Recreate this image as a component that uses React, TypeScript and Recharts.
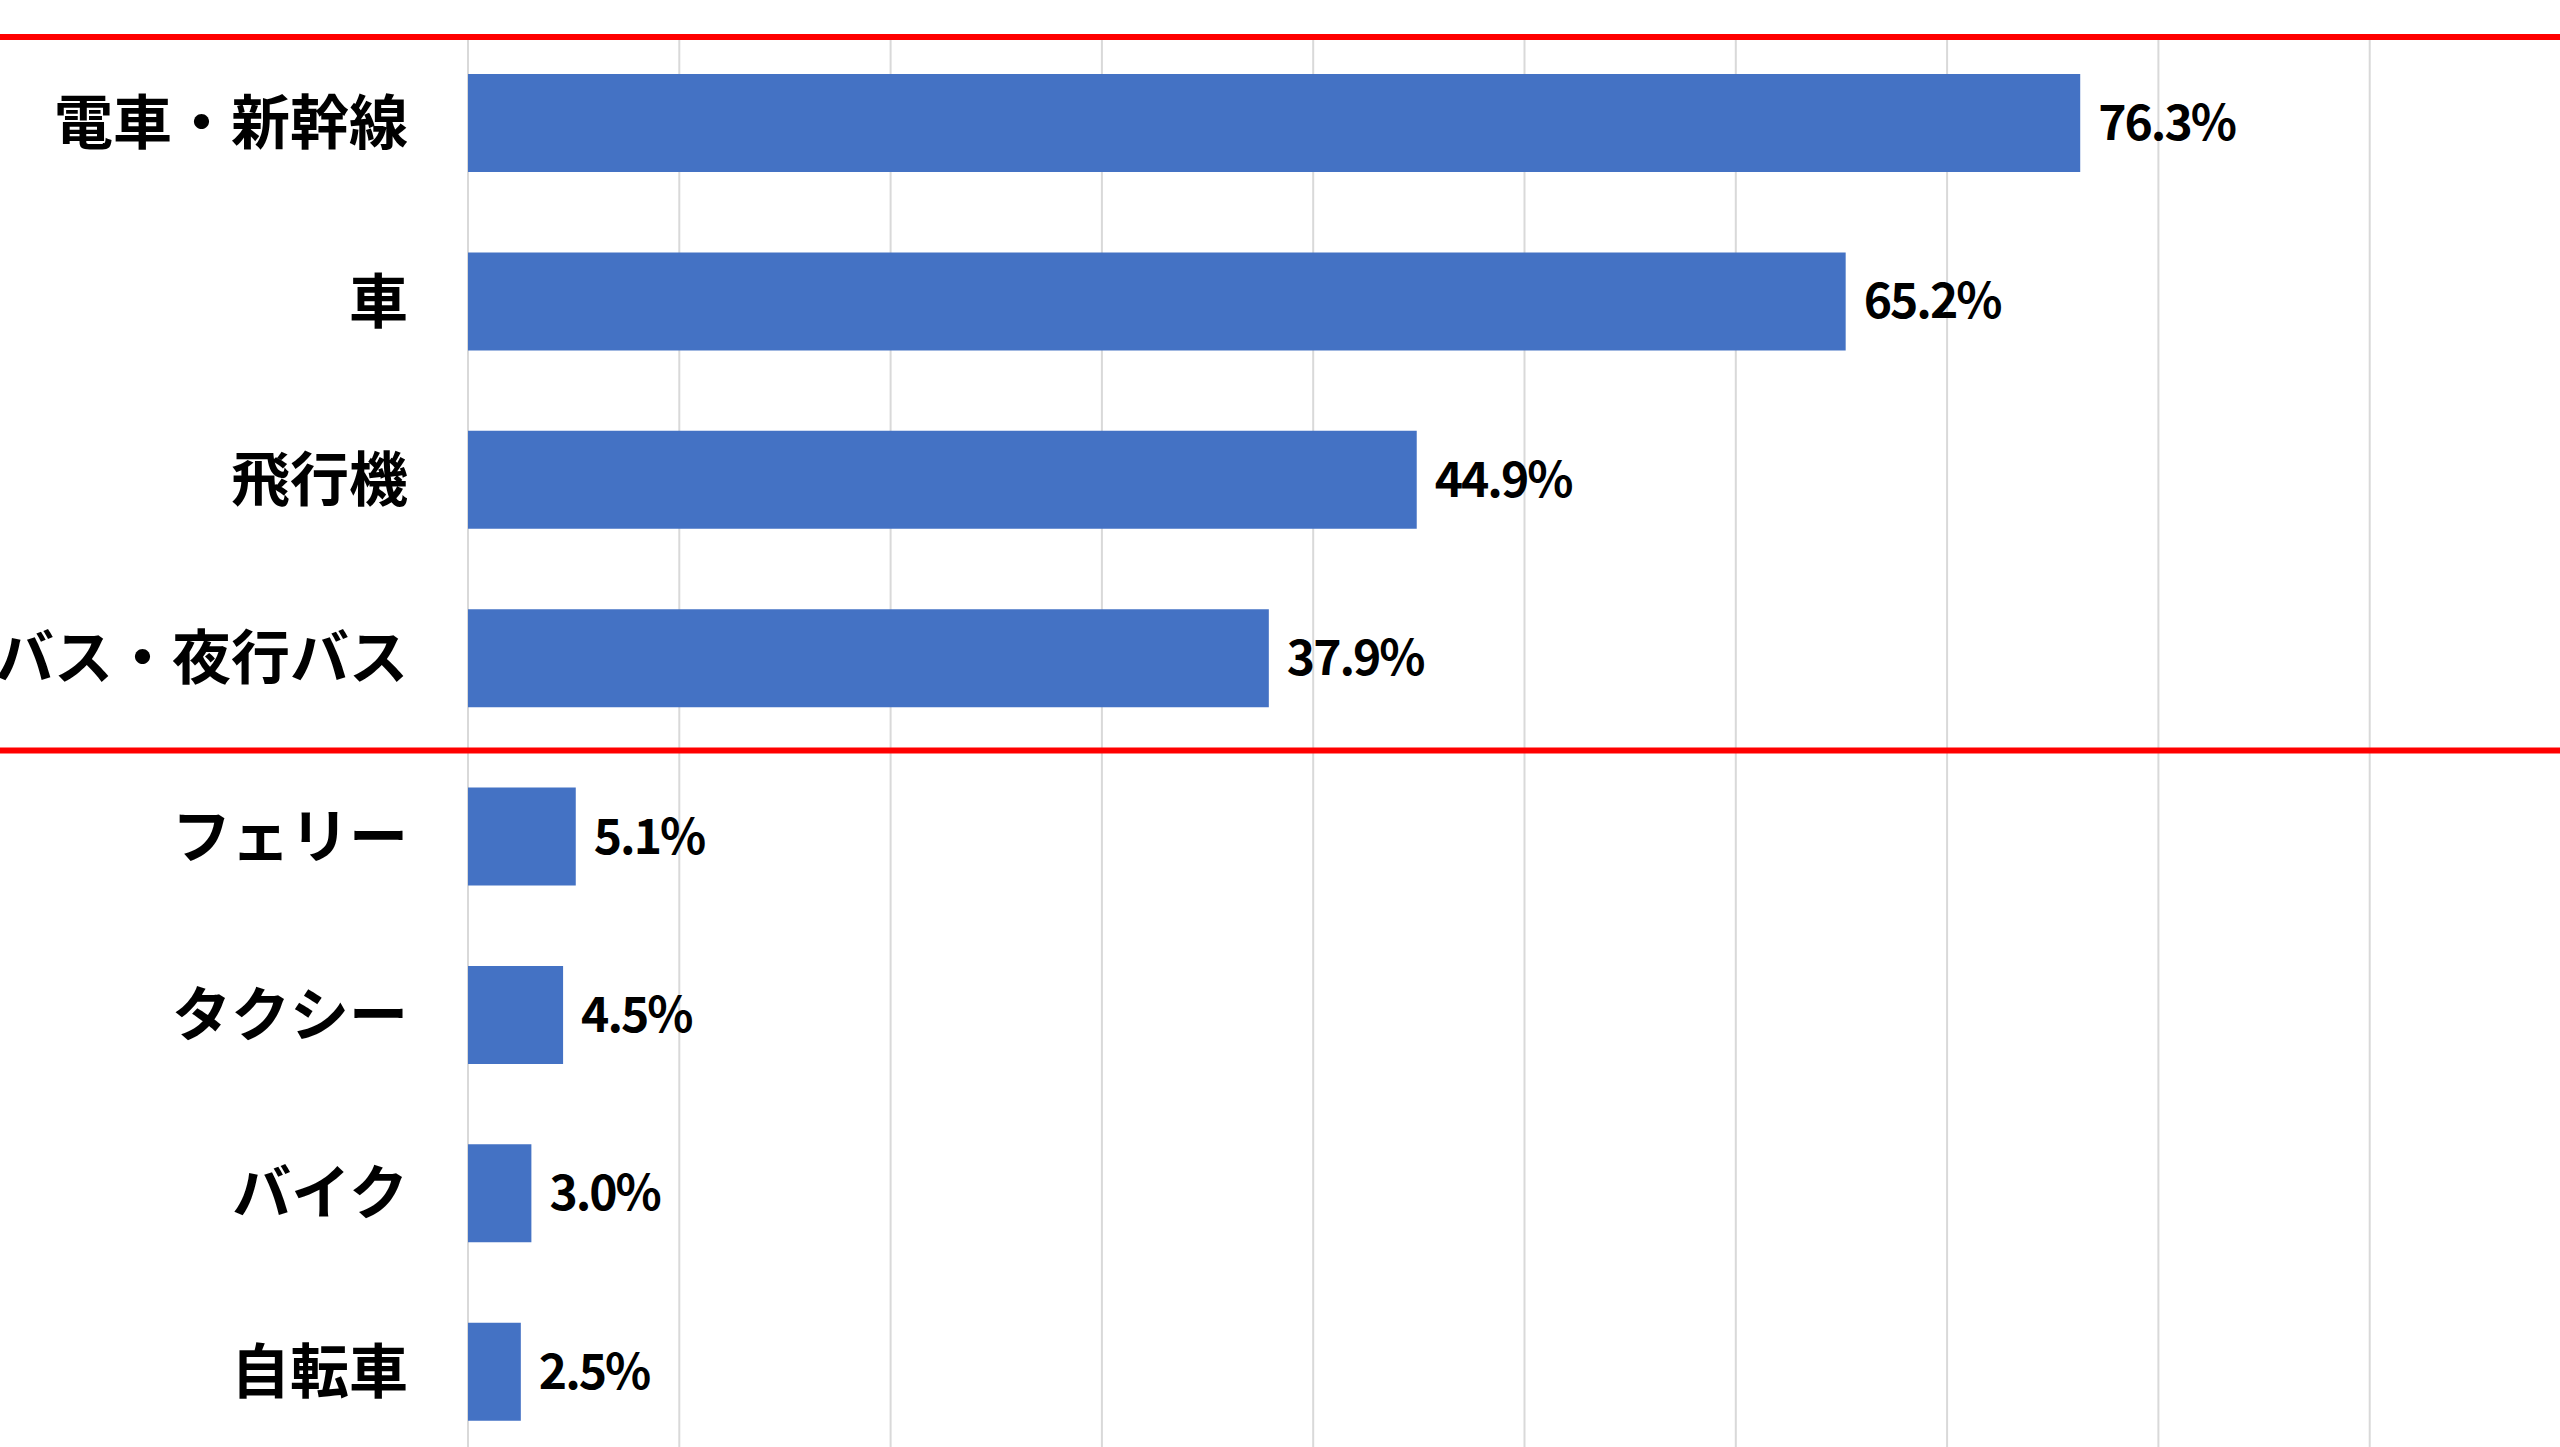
import { BarChart, Bar, XAxis, YAxis, CartesianGrid, ReferenceLine, LabelList } from "recharts";

// 利用した交通手段 (%)
const categories = [
  "電車・新幹線",
  "車",
  "飛行機",
  "高速バス・夜行バス",
  "フェリー",
  "タクシー",
  "バイク",
  "自転車",
];
const shares = [76.3, 65.2, 44.9, 37.9, 5.1, 4.5, 3.0, 2.5];
const gridTicks = [0, 10, 20, 30, 40, 50, 60, 70, 80, 90, 100];

const data = categories.map((name, i) => ({ name, value: shares[i] }));

const FONT = '"Noto Sans CJK JP", "Noto Sans", sans-serif';
const RED = "#ff0000";

// red divider, drawn a touch below the band edge like the original
const RedLine = (props: any) => {
  const { x1, y1, x2, y2 } = props;
  return <line x1={x1} y1={y1 + 3} x2={x2} y2={y2 + 3} stroke={RED} strokeWidth={6} />;
};

export default function App() {
  return (
    <div
      style={{
        position: "absolute",
        left: 0,
        top: 0,
        width: 2560,
        height: 1447,
        overflow: "hidden",
        background: "#fff",
      }}
    >
      {/* the original picture is a crop, so the chart sticks out on the left, right and bottom */}
      <div style={{ position: "absolute", left: -200, top: 0 }}>
        <BarChart
          layout="vertical"
          width={2781}
          height={1461}
          data={data}
          margin={{ top: 34, right: 0, bottom: 0, left: 0 }}
          barSize={98}
        >
          <CartesianGrid horizontal={false} stroke="#d9d9d9" strokeWidth={2} />
          <XAxis type="number" domain={[0, 100]} ticks={gridTicks} hide />
          <YAxis
            type="category"
            dataKey="name"
            width={668}
            interval={0}
            tickSize={0}
            tickMargin={60}
            axisLine={false}
            tickLine={false}
            tick={{ fontSize: 59, fontWeight: 700, fill: "#000", fontFamily: FONT }}
          />
          <Bar dataKey="value" fill="#4472C4" isAnimationActive={false}>
            <LabelList
              dataKey="value"
              position="right"
              offset={18}
              formatter={(v: any) => `${Number(v).toFixed(1)}%`}
              fill="#000"
              fontSize={48}
              fontWeight={700}
              fontFamily={FONT}
              letterSpacing={-2}
            />
          </Bar>
          <ReferenceLine
            segment={[
              { x: -40, y: categories[0] },
              { x: 110, y: categories[0] },
            ]}
            position="start"
            ifOverflow="visible"
            shape={RedLine}
          />
          <ReferenceLine
            segment={[
              { x: -40, y: categories[4] },
              { x: 110, y: categories[4] },
            ]}
            position="start"
            ifOverflow="visible"
            shape={RedLine}
          />
        </BarChart>
      </div>
    </div>
  );
}
